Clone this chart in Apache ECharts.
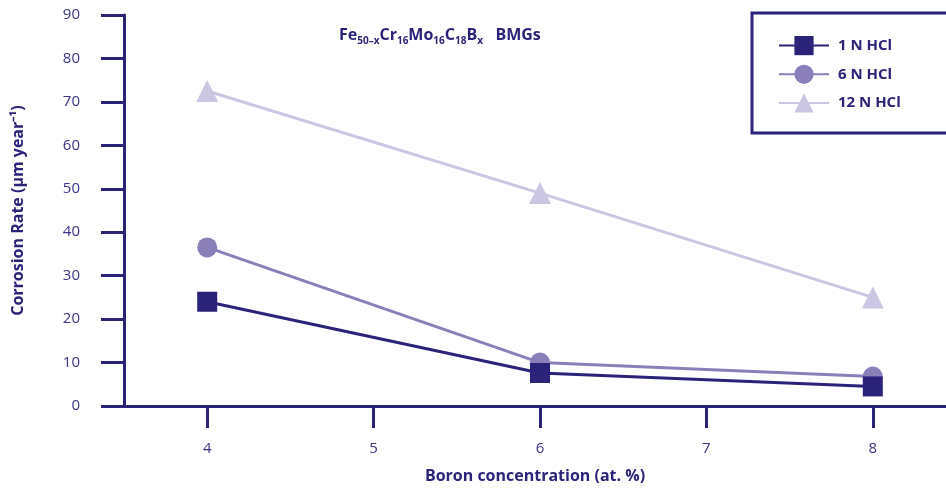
<!DOCTYPE html>
<html lang="en">
<head>
  <meta charset="UTF-8">
  <title>Corrosion rate vs boron</title>
  <script src="https://cdn.jsdelivr.net/npm/echarts@6.0.0/dist/echarts.min.js"></script>
  <style>
    html, body { margin: 0; padding: 0; background: #fff; }
    #chart { width: 946px; height: 491px; }
  </style>
</head>
<body>
  <div id="chart"></div>

<script>
  // boron content (at. %) and corrosion rates
  const boron = [4, 6, 8]
  const hcl1 = [24, 7.6, 4.5]
  const hcl6 = [36.5, 10, 6.8]
  const hcl12 = [72.5, 49, 25]
  const xTicks = [4, 5, 6, 7, 8]

  const navy = '#2b2279'
  const textCol = '#3b3487'
  const font = 'Open Sans'

  const pairs = ys => boron.map((b, i) => [b, ys[i]])

  const chart = echarts.init(document.getElementById('chart'))
  chart.setOption({
    animation: false,
    textStyle: { fontFamily: font },
    title: {
      left: 334, top: 20,
      text: '{b|Fe}{s|50–x}{b|Cr}{s|16}{b|Mo}{s|16}{b|C}{s|18}{b|B}{s|x}{b|   BMGs}',
      textStyle: {
        rich: {
          b: { fontSize: 16, fontWeight: 'bold', color: navy, fontFamily: font },
          s: { fontSize: 10, fontWeight: 'bold', color: navy, fontFamily: font, padding: [11, 0, 0, 0] }
        }
      }
    },
    // the figure's legend frame runs off the right edge, so it is drawn as a plain rect
    graphic: [{
      type: 'rect', z: 10,
      shape: { x: 752, y: 13, width: 230, height: 120 },
      style: { fill: 'none', stroke: navy, lineWidth: 3 }
    }],
    legend: {
      left: 778, top: 36,
      orient: 'vertical',
      padding: 0,
      itemWidth: 50, itemHeight: 24, itemGap: 9.5,
      textStyle: { fontSize: 15, fontWeight: 'bold', color: navy, fontFamily: font, padding: [0, 0, 0, 4] },
      data: ['1 N HCl', '6 N HCl', '12 N HCl']
    },
    grid: { left: 124, top: 15, bottom: 85, right: 0 },
    xAxis: {
      type: 'value', min: 3.5, max: 8.44,
      name: 'Boron concentration (at. %)',
      nameLocation: 'middle', nameGap: 62,
      nameTextStyle: { fontSize: 16, fontWeight: 'bold', color: navy },
      axisLine: { lineStyle: { color: navy, width: 3 } },
      axisTick: { show: true, customValues: xTicks, length: 22, lineStyle: { color: navy, width: 3 } },
      axisLabel: { customValues: xTicks, margin: 35, fontSize: 15, color: textCol },
      splitLine: { show: false }
    },
    yAxis: {
      type: 'value', min: 0, max: 90, interval: 10,
      name: 'Corrosion Rate (µm year⁻¹)',
      nameLocation: 'middle', nameGap: 98,
      nameTextStyle: { fontSize: 16, fontWeight: 'bold', color: navy },
      axisLine: { show: true, lineStyle: { color: navy, width: 3 } },
      axisTick: { show: true, length: 23, lineStyle: { color: navy, width: 3 } },
      axisLabel: { margin: 44, fontSize: 15, color: textCol },
      splitLine: { show: false }
    },
    series: [
      {
        name: '12 N HCl', type: 'line', data: pairs(hcl12),
        symbol: 'triangle', symbolSize: 22,
        itemStyle: { color: '#cbc6e2' }, lineStyle: { color: '#cbc6e2', width: 3 }, z: 2
      },
      {
        name: '6 N HCl', type: 'line', data: pairs(hcl6),
        symbol: 'circle', symbolSize: 20,
        itemStyle: { color: '#8b7fba' }, lineStyle: { color: '#8b7fba', width: 3 }, z: 3
      },
      {
        name: '1 N HCl', type: 'line', data: pairs(hcl1),
        symbol: 'rect', symbolSize: 20,
        itemStyle: { color: navy }, lineStyle: { color: navy, width: 3 }, z: 4
      }
    ]
  })
</script>
</body>
</html>
